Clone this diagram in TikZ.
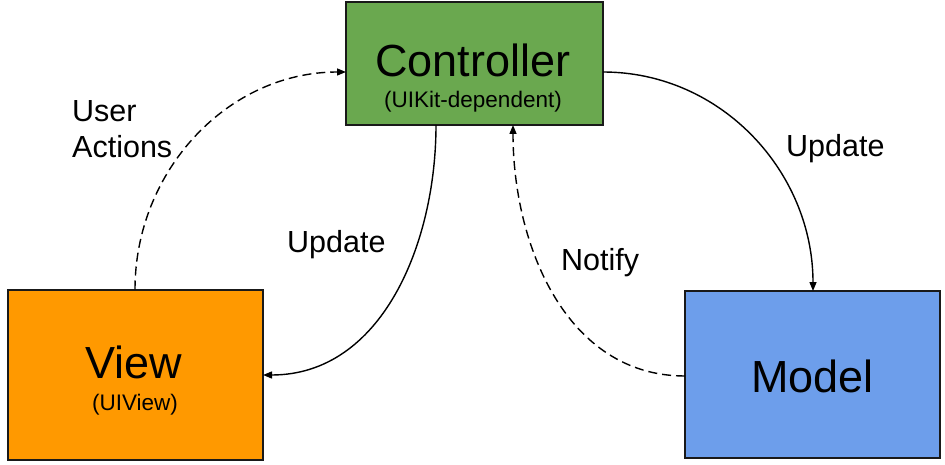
\documentclass[tikz,border=0pt]{standalone}
\usepackage{fontspec}
\setmainfont{Liberation Sans}
\usetikzlibrary{arrows.meta}
\definecolor{ctrlgreen}{HTML}{6AA84F}
\definecolor{vieworange}{HTML}{FF9900}
\definecolor{modelblue}{HTML}{6D9EEB}
\tikzset{
  box/.style={draw=black!90, line width=1.5pt, inner sep=0pt, rectangle},
  title/.style={anchor=base, font=\fontsize{45}{50}\selectfont, inner sep=0pt},
  sub/.style={anchor=base, font=\fontsize{22.5}{26}\selectfont, inner sep=0pt},
  lab/.style={anchor=base west, font=\fontsize{30.5}{36}\selectfont, inner sep=0pt, align=left},
  conn/.style={line width=1.4pt, -{Triangle[length=9pt,width=7pt]}},
  dsh/.style={dash pattern=on 9pt off 5pt},
}
\begin{document}
\begin{tikzpicture}[x=1pt,y=-1pt]
\useasboundingbox (0,0) rectangle (945,465);
\node[box, fill=ctrlgreen, minimum width=257pt, minimum height=123pt] (ctrl) at (474.5,63.5) {};
\node[box, fill=vieworange, minimum width=255pt, minimum height=170pt] (view) at (135.5,375) {};
\node[box, fill=modelblue, minimum width=255pt, minimum height=167pt] (model) at (812.5,374.5) {};
\node[title] (ctrlt) at (473,77) {Controller};
\node[sub] (ctrls) at (473,108) {(UIKit-dependent)};
\node[title] (viewt) at (134,378) {View};
\node[sub] (views) at (135,410.5) {(UIView)};
\node[title] (modelt) at (812.5,392) {Model};
\node[lab] (ua) at (72,158) {User\\Actions};
\node[lab] (upl) at (287,252) {Update};
\node[lab] (notify) at (561,270) {Notify};
\node[lab] (upr) at (786,157) {Update};
\coordinate (vtop) at (135,289.5);
\coordinate (cleft) at (346,72);
\coordinate (cbot1) at (436,125);
\coordinate (vright) at (263,375);
\coordinate (mleft) at (685,376);
\coordinate (cbot2) at (513,125);
\coordinate (cright) at (603,72);
\coordinate (mtop) at (813,291);
\draw[conn, dsh] (vtop) to[out=90, in=180] (cleft);
\draw[conn] (cbot1) to[out=-90, in=0] (vright);
\draw[conn, dsh] (mleft) to[out=180, in=-90] (cbot2);
\draw[conn] (cright) to[out=0, in=90] (mtop);
\end{tikzpicture}
\end{document}
